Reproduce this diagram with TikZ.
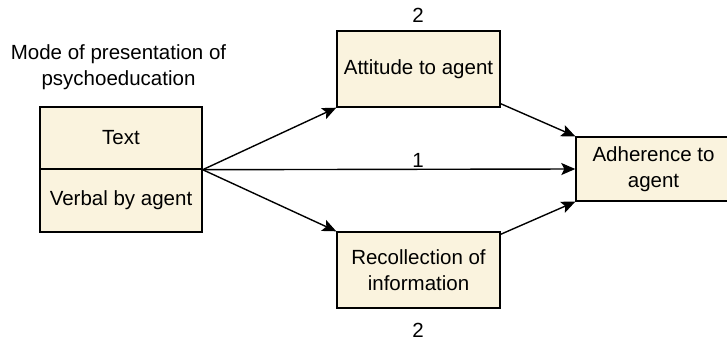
\documentclass[tikz,border=0pt]{standalone}
\usepackage{fontspec}
\setmainfont{Liberation Sans}
\usetikzlibrary{arrows.meta}
\definecolor{boxfill}{RGB}{250,243,222}
\begin{document}
\begin{tikzpicture}[x=1pt,y=1pt,
  every node/.style={font=\fontsize{20.5}{25.5}\selectfont, inner sep=0pt},
  box/.style={draw=black, fill=boxfill, line width=1.4pt, rectangle, align=center},
  conn/.style={line width=1.4pt, -{Stealth[length=14pt,width=12pt,inset=3pt]}},
  lbl/.style={align=center}]
\useasboundingbox (0,0) rectangle (727,-340);
\node[lbl] (title) at (118.5,-67) {Mode of presentation of\\psychoeducation};
\node[box, minimum width=162pt, minimum height=62pt] (ta) at (121,-138) {Text};
\node[box, minimum width=162pt, minimum height=63pt] (vb) at (121,-200.5) {Verbal by agent};
\coordinate (src) at (ta.south east);
\node[box, minimum width=163pt, minimum height=76pt] (att) at (418.5,-69) {Attitude to agent};
\node[box, minimum width=163pt, minimum height=76pt] (rec) at (418.5,-270) {Recollection of\\information};
\node[box, minimum width=155pt, minimum height=64pt] (adh) at (653.5,-169) {Adherence to\\agent};
\node[lbl, anchor=base] (l2a) at (418,-22) {2};
\node[lbl, anchor=base] (l1) at (418,-167) {1};
\node[lbl, anchor=base] (l2b) at (418,-337) {2};
\draw[conn] (src) -- (att.south west);
\draw[conn] (src) -- (rec.north west);
\draw[conn] (src) -- (adh.west);
\draw[conn] ([yshift=4pt]att.south east) -- (adh.north west);
\draw[conn] ([yshift=-3pt]rec.north east) -- (adh.south west);
\end{tikzpicture}
\end{document}
